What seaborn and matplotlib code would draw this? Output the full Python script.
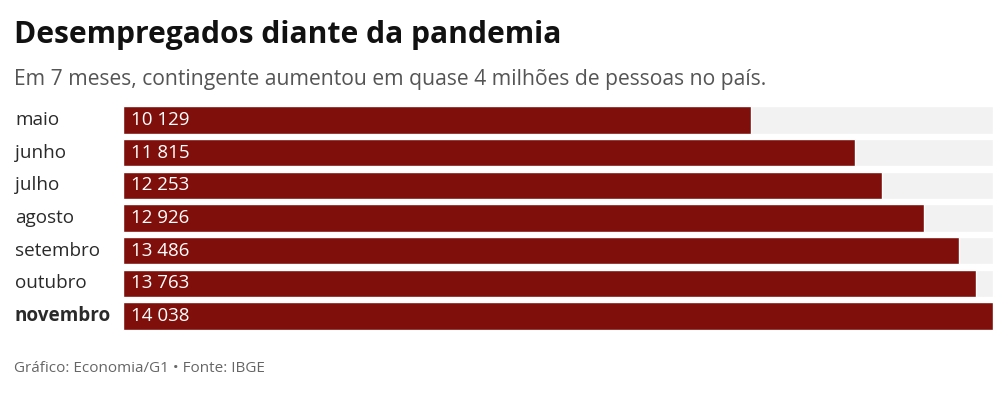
import matplotlib
matplotlib.use("Agg")
import matplotlib.pyplot as plt
import seaborn as sns
import pandas as pd

months = ["maio", "junho", "julho", "agosto", "setembro", "outubro", "novembro"]
values = [10129, 11815, 12253, 12926, 13486, 13763, 14038]
labels = ["10 129", "11 815", "12 253", "12 926", "13 486", "13 763", "14 038"]

title = "Desempregados diante da pandemia"
subtitle = "Em 7 meses, contingente aumentou em quase 4 milhões de pessoas no país."
footer = "Gráfico: Economia/G1 • Fonte: IBGE"

sns.set_theme(style="white")
plt.rcParams["font.family"] = ["Open Sans", "DejaVu Sans"]

df = pd.DataFrame({"mes": months, "valor": values, "fundo": [max(values)] * len(values)})

W, H = 1008, 394
fig = plt.figure(figsize=(W / 100, H / 100), dpi=100)
left, right = 123 / W, 993 / W
top_px, bot_px = 103.7, 332.3
ax = fig.add_axes([left, 1 - bot_px / H, right - left, (bot_px - top_px) / H])

sns.barplot(data=df, y="mes", x="fundo", color="#f2f2f2", width=0.83, ax=ax, saturation=1)
sns.barplot(data=df, y="mes", x="valor", color="#7f0f0a", width=0.83, ax=ax, saturation=1)

ax.set_xlim(0, max(values))
ax.set_ylim(len(months) - 0.5, -0.5)
ax.set_xlabel("")
ax.set_ylabel("")
ax.set_xticks([])
ax.set_yticks([])
for s in ax.spines.values():
    s.set_visible(False)

for i, (m, lab) in enumerate(zip(months, labels)):
    ax.text(0.0095 * max(values), i, lab, color="white", fontsize=13.5, va="center", ha="left")
    ax.annotate(m, xy=(0, i), xycoords=("axes fraction", "data"),
                xytext=(15 - 123, 0), textcoords="offset pixels",
                ha="left", va="center", fontsize=13.6, color="#2a2a2a",
                fontweight="bold" if m == "novembro" else "normal")

fig.text(14 / W, 1 - 35 / H, title, fontsize=21.6, fontweight="bold", color="#111111", va="center", ha="left")
fig.text(14 / W, 1 - 80 / H, subtitle, fontsize=15.2, color="#555555", va="center", ha="left")
fig.text(14 / W, 1 - 369 / H, footer, fontsize=11, color="#666666", va="center", ha="left")

fig.savefig("out.png", dpi=100)
